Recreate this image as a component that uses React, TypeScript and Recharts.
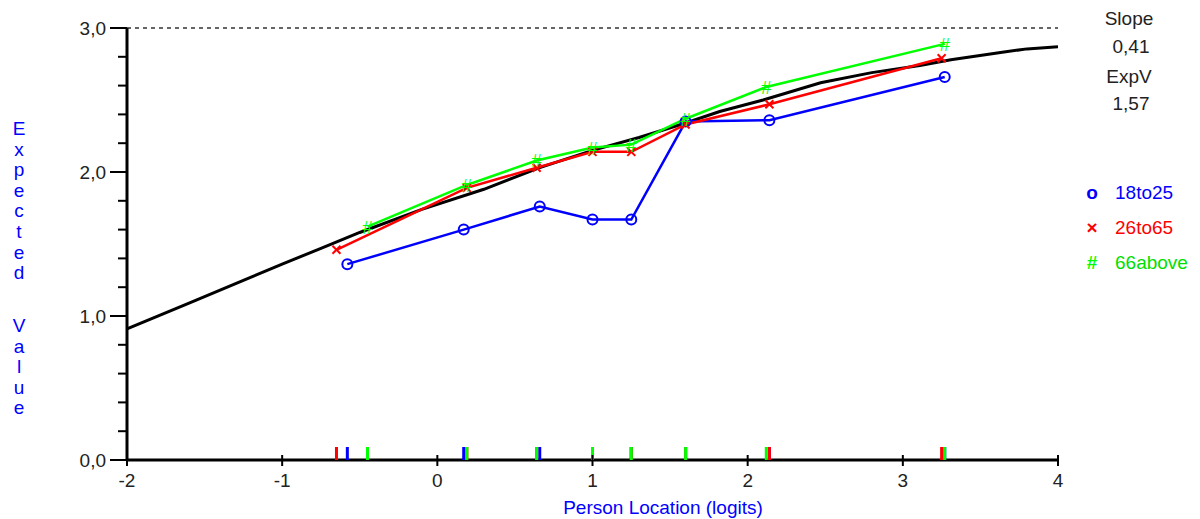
import React from "react";
import { ComposedChart, Line, Scatter, XAxis, YAxis, ReferenceLine } from "recharts";

// axis ticks
const xTicks = [-2, -1, 0, 1, 2, 3, 4];
const yTicks = [0, 0.2, 0.4, 0.6, 0.8, 1, 1.2, 1.4, 1.6, 1.8, 2, 2.2, 2.4, 2.6, 2.8, 3];

// expected value curve
const curveLoc = [-2, -1.6, -1.2, -1, -0.75, -0.5, -0.1, 0.3, 0.66, 1.0, 1.3, 1.6, 1.82, 2.1, 2.47, 2.8, 3.11, 3.31, 3.63, 3.8, 4];
const curveExp = [0.91, 1.09, 1.27, 1.36, 1.47, 1.58, 1.74, 1.88, 2.03, 2.15, 2.24, 2.34, 2.42, 2.5, 2.62, 2.69, 2.74, 2.78, 2.83, 2.855, 2.87];

// class interval means per group
const groupNames = ["18to25", "26to65", "66above"];
const groupColors = ["#0000ff", "#ff0000", "#00ff00"];
const group1Loc = [-0.58, 0.17, 0.66, 1.0, 1.25, 1.6, 2.14, 3.27];
const group1Exp = [1.36, 1.6, 1.76, 1.67, 1.67, 2.35, 2.36, 2.66];
const group2Loc = [-0.65, 0.19, 0.64, 1.0, 1.25, 1.6, 2.14, 3.25];
const group2Exp = [1.46, 1.89, 2.03, 2.14, 2.14, 2.33, 2.47, 2.79];
const group3Loc = [-0.45, 0.19, 0.64, 1.0, 1.25, 1.6, 2.12, 3.27];
const group3Exp = [1.62, 1.91, 2.08, 2.17, 2.19, 2.37, 2.59, 2.89];

const slopeValue = "0,41";
const expVValue = "1,57";

const FONT = "'Liberation Sans', Arial, sans-serif";

const toPoints = (xs: number[], ys: number[]) => xs.map((x, i) => ({ x, y: ys[i] }));
const curveData = toPoints(curveLoc, curveExp);
const groups = [
  toPoints(group1Loc, group1Exp),
  toPoints(group2Loc, group2Exp),
  toPoints(group3Loc, group3Exp),
];
const rugs = [group1Loc, group2Loc, group3Loc].map((locs) => locs.map((x) => ({ x, y: 0 })));

const fmt = (v: number) => v.toFixed(1).replace(".", ",");

const YTick = (props: any) => {
  const { x, y, payload } = props;
  const major = Math.abs(payload.value - Math.round(payload.value)) < 1e-6;
  return (
    <g>
      <line x1={x - (major ? 17 : 9)} x2={x} y1={y} y2={y} stroke="#000" strokeWidth={2} />
      {major && (
        <text x={x - 21} y={y + 7} textAnchor="end" fontSize={19} fontFamily={FONT} fill="#222">
          {fmt(payload.value)}
        </text>
      )}
    </g>
  );
};

const XTick = (props: any) => {
  const { x, y, payload } = props;
  return (
    <g>
      <line x1={x} x2={x} y1={y - 5} y2={y + 6} stroke="#000" strokeWidth={2} />
      <text x={x} y={y + 27} textAnchor="middle" fontSize={19} fontFamily={FONT} fill="#222">
        {payload.value}
      </text>
    </g>
  );
};

const marker = (idx: number) => (props: any) => {
  const { cx, cy, index } = props;
  const color = groupColors[idx];
  if (idx === 0) {
    return <circle key={`m0-${index}`} cx={cx} cy={cy} r={5} fill="none" stroke={color} strokeWidth={2} />;
  }
  if (idx === 1) {
    return (
      <g key={`m1-${index}`} stroke={color} strokeWidth={2}>
        <line x1={cx - 4} y1={cy - 4} x2={cx + 4} y2={cy + 4} />
        <line x1={cx - 4} y1={cy + 4} x2={cx + 4} y2={cy - 4} />
      </g>
    );
  }
  return (
    <text key={`m2-${index}`} x={cx} y={cy + 7} textAnchor="middle" fontSize={19} fontFamily={FONT} fill={color}>
      #
    </text>
  );
};

const rugShape = (idx: number) => (props: any) => {
  const { cx, cy } = props;
  return <rect x={cx - 1.5} y={cy - 13} width={3} height={13} fill={groupColors[idx]} />;
};

const yLabelChars = ["E", "x", "p", "e", "c", "t", "e", "d", "V", "a", "l", "u", "e"];
const yLabelBase = [135, 155.6, 176.2, 196.8, 217.4, 238, 258.6, 279.2, 332, 352.6, 373.2, 393.8, 414.4];

export default function App() {
  return (
    <div style={{ position: "absolute", left: 0, top: 0, width: 1200, height: 519, background: "#fff", fontFamily: FONT }}>
      <ComposedChart width={1200} height={519} margin={{ top: 28, right: 142, left: 0, bottom: 0 }}>
        <XAxis
          dataKey="x"
          type="number"
          domain={[-2, 4]}
          ticks={xTicks}
          interval={0}
          allowDataOverflow
          height={59}
          tickSize={0}
          tickMargin={0}
          tickLine={false}
          tick={<XTick />}
          axisLine={{ stroke: "#000", strokeWidth: 3 }}
        />
        <YAxis
          dataKey="y"
          type="number"
          domain={[0, 3]}
          ticks={yTicks}
          interval={0}
          allowDataOverflow
          width={127}
          tickSize={0}
          tickMargin={0}
          tickLine={false}
          tick={<YTick />}
          axisLine={{ stroke: "#000", strokeWidth: 3 }}
        />
        <ReferenceLine y={3} stroke="#333" strokeDasharray="4 4" strokeWidth={1.5} />
        <Line
          data={curveData}
          dataKey="y"
          type="linear"
          stroke="#000"
          strokeWidth={3}
          dot={false}
          isAnimationActive={false}
        />
        {groups.map((g, i) => (
          <Line
            key={groupNames[i]}
            data={g}
            dataKey="y"
            type="linear"
            stroke={groupColors[i]}
            strokeWidth={2.5}
            dot={marker(i)}
            activeDot={false}
            isAnimationActive={false}
          />
        ))}
        {rugs.map((r, i) => (
          <Scatter
            key={`rug-${groupNames[i]}`}
            data={r}
            dataKey="y"
            shape={rugShape(i)}
            isAnimationActive={false}
          />
        ))}
      </ComposedChart>
      <svg
        width={1200}
        height={519}
        style={{ position: "absolute", left: 0, top: 0, pointerEvents: "none" }}
        fontFamily={FONT}
        fontSize={19}
      >
        {yLabelChars.map((c, i) => (
          <text key={i} x={19} y={yLabelBase[i]} textAnchor="middle" fill="#0000ff">
            {c}
          </text>
        ))}
        <text x={663} y={514} textAnchor="middle" fill="#0000ff">
          Person Location (logits)
        </text>
        <text x={1129} y={25} textAnchor="middle" fill="#222">Slope</text>
        <text x={1131} y={53} textAnchor="middle" fill="#222">{slopeValue}</text>
        <text x={1129} y={83} textAnchor="middle" fill="#222">ExpV</text>
        <text x={1131} y={110} textAnchor="middle" fill="#222">{expVValue}</text>
        {groupNames.map((name, i) => (
          <g key={name}>
            <text x={1092} y={199 + i * 35} textAnchor="middle" fill={groupColors[i]} fontWeight="bold">
              {i === 0 ? "o" : i === 1 ? "×" : "#"}
            </text>
            <text x={1115} y={199 + i * 35} fill={i === 2 ? "#00e000" : groupColors[i]}>
              {name}
            </text>
          </g>
        ))}
      </svg>
    </div>
  );
}
